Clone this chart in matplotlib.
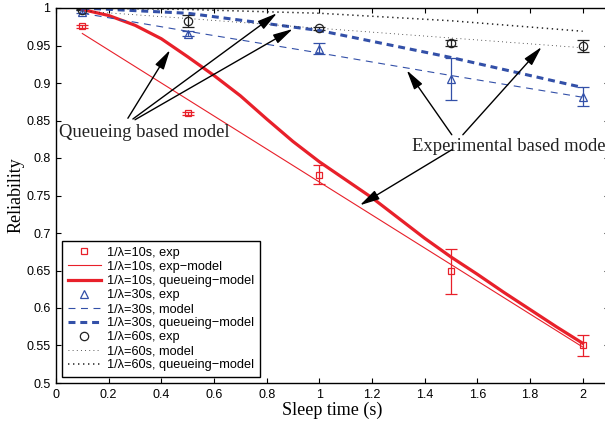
import matplotlib
matplotlib.use('Agg')
import matplotlib.pyplot as plt
from matplotlib.ticker import FuncFormatter

# sleep times where the experiments were run
x_exp = [0.1, 0.5, 1.0, 1.5, 2.0]
# finer grid used for the 10s queueing model curve
x_fine = [0.1, 0.2, 0.3, 0.4, 0.5, 0.6, 0.7, 0.8, 0.9, 1.0,
          1.1, 1.2, 1.3, 1.4, 1.5, 1.6, 1.7, 1.8, 1.9, 2.0]

# 1/lambda = 10s
r10_exp = [0.976, 0.860, 0.778, 0.649, 0.550]
r10_err = [0.002, 0.002, 0.013, 0.030, 0.014]
r10_model = [0.966, 0.878, 0.768, 0.658, 0.548]
r10_queue = [0.998, 0.990, 0.977, 0.959, 0.935, 0.910, 0.883, 0.852, 0.822, 0.795,
             0.771, 0.747, 0.720, 0.693, 0.668, 0.645, 0.621, 0.598, 0.575, 0.553]

# 1/lambda = 30s
r30_exp = [0.995, 0.966, 0.946, 0.905, 0.882]
r30_err = [0.002, 0.003, 0.0075, 0.028, 0.0125]
r30_model = [0.993, 0.969, 0.940, 0.910, 0.881]
r30_queue = [1.000, 0.993, 0.970, 0.934, 0.894]

# 1/lambda = 60s
r60_exp = [0.998, 0.983, 0.973, 0.953, 0.950]
r60_err = [0.001, 0.008, 0.002, 0.004, 0.008]
r60_model = [0.996, 0.986, 0.973, 0.960, 0.947]
r60_queue = [1.000, 0.998, 0.993, 0.983, 0.969]

red = '#e8202a'
blue = '#3350a8'
black = '#222222'

plt.rcParams['font.family'] = ['Liberation Sans', 'DejaVu Sans']
plt.rcParams['lines.scale_dashes'] = False

fig = plt.figure(figsize=(6.05, 4.22), dpi=100)
ax = fig.add_axes([56 / 605, 39 / 422, 553 / 605, 375 / 422])

# error bars first, drawn without legend entries
for y, e, c in [(r10_exp, r10_err, red), (r30_exp, r30_err, blue), (r60_exp, r60_err, black)]:
    ax.errorbar(x_exp, y, yerr=e, fmt='none', ecolor=c, elinewidth=0.9,
                capsize=4, capthick=0.9)

ax.plot(x_exp, r10_exp, 's', ms=5, mfc='none', mec=red, mew=0.9, label='1/λ=10s, exp')
ax.plot(x_exp, r10_model, '-', color=red, lw=0.8, label='1/λ=10s, exp−model')
ax.plot(x_fine, r10_queue, '-', color=red, lw=2.3, label='1/λ=10s, queueing−model')
ax.plot(x_exp, r30_exp, '^', ms=6, mfc='none', mec=blue, mew=0.9, label='1/λ=30s, exp')
ax.plot(x_exp, r30_model, color=blue, lw=0.8, dashes=(5, 4), label='1/λ=30s, model')
ax.plot(x_exp, r30_queue, color=blue, lw=2.2, dashes=(5, 3.5), label='1/λ=30s, queueing−model')
ax.plot(x_exp, r60_exp, 'o', ms=6, mfc='none', mec=black, mew=0.9, label='1/λ=60s, exp')
ax.plot(x_exp, r60_model, color=black, lw=0.6, dashes=(0.6, 2.4), label='1/λ=60s, model')
ax.plot(x_exp, r60_queue, color=black, lw=1.1, dashes=(1.0, 2.6), label='1/λ=60s, queueing−model')

ax.set_xlim(0, 2.1)
ax.set_ylim(0.5, 1.0)
ax.set_xticks([0, 0.2, 0.4, 0.6, 0.8, 1.0, 1.2, 1.4, 1.6, 1.8, 2.0])
ax.set_yticks([0.5, 0.55, 0.6, 0.65, 0.7, 0.75, 0.8, 0.85, 0.9, 0.95, 1.0])
ax.xaxis.set_major_formatter(FuncFormatter(lambda v, p: '%g' % round(v, 2)))
ax.yaxis.set_major_formatter(FuncFormatter(lambda v, p: '%g' % round(v, 2)))
ax.tick_params(direction='in', top=True, right=True, length=3.6, width=0.8,
               labelsize=9, pad=4)
for s in ax.spines.values():
    s.set_linewidth(1.0)

ax.set_xlabel('Sleep time (s)', family='Liberation Serif', fontsize=13, labelpad=1)
ax.set_ylabel('Reliability', family='Liberation Serif', fontsize=13, labelpad=1)

leg = ax.legend(loc='lower left', bbox_to_anchor=(0.011, 0.016), borderaxespad=0,
                fontsize=9.2, fancybox=False, edgecolor='black', framealpha=1,
                handlelength=2.6, handletextpad=0.45, labelspacing=0.16,
                borderpad=0.45)
leg.get_frame().set_linewidth(1.0)

arrow = dict(arrowstyle='-|>,head_length=1.2,head_width=0.3', color='black',
             lw=1.0, shrinkA=0, shrinkB=0, mutation_scale=10)

ax.text(0.011, 0.828, 'Queueing based model', family='Liberation Serif',
        fontsize=13.4, va='baseline', color='#222222')
for head, tail in [((0.433, 0.944), (0.273, 0.853)),
                   ((0.839, 0.993), (0.292, 0.852)),
                   ((0.899, 0.972), (0.300, 0.851))]:
    ax.annotate('', xy=head, xytext=tail, arrowprops=arrow)

ax.text(1.351, 0.809, 'Experimental based model', family='Liberation Serif',
        fontsize=13.4, va='baseline', color='#222222')
for head, tail in [((1.332, 0.917), (1.503, 0.831)),
                   ((1.844, 0.948), (1.545, 0.831)),
                   ((1.154, 0.737), (1.503, 0.811))]:
    ax.annotate('', xy=head, xytext=tail, arrowprops=arrow)

plt.savefig('out.png', dpi=100)
